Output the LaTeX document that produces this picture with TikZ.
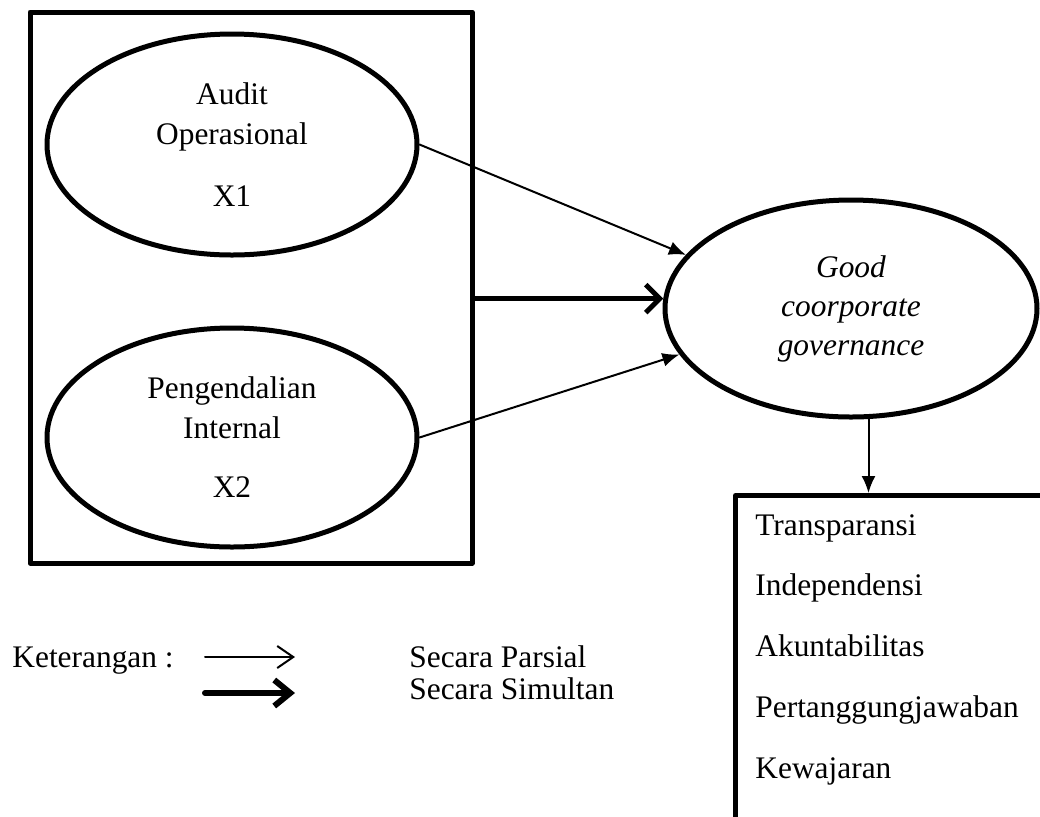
\documentclass[tikz,border=0pt]{standalone}
\usepackage{fontspec}
\setmainfont{Liberation Serif}
\usetikzlibrary{shapes.geometric,arrows.meta}
\begin{document}
\begin{tikzpicture}[x=0.5pt, y=-0.5pt, font=\fontsize{15.7}{20}\selectfont, line join=round, line cap=round,
	var/.style={draw, ellipse, line width=2.5pt, minimum width=185pt, align=center, inner sep=0pt},
	parsial/.style={line width=1pt, -{Latex[length=8.5pt,width=7pt]}},
	simultan/.style={line width=2.5pt, -{Straight Barb[length=7pt,width=14pt,line width=2.5pt]}},
	item/.style={anchor=base west, inner sep=0pt}]
	\def\dy{60.75}
	\useasboundingbox (0,0) rectangle (1040,816);
	% variabel independen
	\node[draw, line width=2.5pt, minimum width=221pt, minimum height=275.5pt] (varbox) at (251,287.5) {};
	\node[var, minimum height=110.5pt] (x1) at (232,144.5) {\raisebox{-1.5pt}{Audit}\\\raisebox{-1.5pt}{Operasional}\\[11pt]\raisebox{-1.5pt}{X1}};
	\node[var, minimum height=109.5pt] (x2) at (232,437.5) {\raisebox{-2.5pt}{Pengendalian}\\\raisebox{-2.5pt}{Internal}\\[9.5pt]\raisebox{-2.5pt}{X2}};
	% variabel dependen
	\node[var, minimum width=186pt, minimum height=108.5pt, font=\fontsize{15.7}{19.5}\selectfont\itshape] (gcg) at (851,308.5) {\raisebox{1.5pt}{Good}\\\raisebox{1.5pt}{coorporate}\\\raisebox{1.5pt}{governance}};
	\node[draw, line width=2.5pt, anchor=north west, minimum width=300pt, minimum height=200pt] (prinsip) at (733,493) {};
	\foreach \t [count=\i from 0] in {Transparansi,Independensi,Akuntabilitas,Pertanggungjawaban,Kewajaran}
		\node[item] (p\i) at (755,535+\i*\dy) {\t};
	\draw[parsial] (x1.east) -- (gcg.162);
	\draw[parsial] (x2.east) -- (gcg.195);
	\draw[simultan] (varbox.east |- gcg.177) -- (gcg.177);
	\draw[parsial] (gcg.279) -- (gcg.279 |- prinsip.north);
	% keterangan
	\node[item] (ket) at (12,667) {Keterangan :};
	\node[item] (lp) at (409,667) {Secara Parsial};
	\node[item] (ls) at (409,699) {Secara Simultan};
	\coordinate (a1) at (205,657); \coordinate (b1) at (295,657);
	\coordinate (a2) at (205,693); \coordinate (b2) at (295,693);
	\draw[line width=1pt, -{Straight Barb[length=8pt,width=11pt,line width=1pt]}] (a1) -- (b1);
	\draw[line width=3pt, -{Straight Barb[length=8pt,width=13pt,line width=3pt]}] (a2) -- (b2);
\end{tikzpicture}
\end{document}
